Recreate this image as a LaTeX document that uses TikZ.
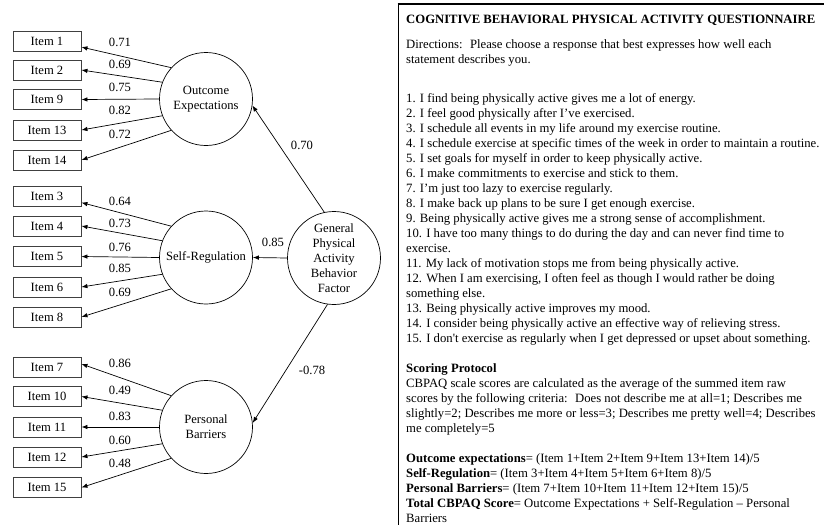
\documentclass[tikz,border=0pt]{standalone}
\usepackage{fontspec}
\setmainfont{Liberation Serif}[Ligatures=TeXOff]
\usetikzlibrary{arrows.meta,calc}
\newcommand\fsz{\fontsize{12.6}{15}\selectfont}
\newcommand\rsz{\fontsize{12.7}{15}\selectfont}
\tikzset{
  itembox/.style={draw=black!75, line width=0.9pt, minimum width=68pt, minimum height=20pt, inner sep=0pt, font=\fsz},
  latent/.style={draw, circle, line width=0.7pt, minimum size=93pt, inner sep=0pt, align=center, font=\fsz},
  load/.style={-{Latex[length=6pt,width=4.5pt]}, line width=0.7pt},
  num/.style={inner sep=0pt, font=\fsz},
  txt/.style={anchor=base west, inner sep=0pt, font=\rsz},
}
\newcommand\rline[3]{\node[txt] (#1) at (406,#2) {#3};}
\begin{document}
\begin{tikzpicture}[x=1pt,y=-1pt]
\useasboundingbox (0,0) rectangle (825,525);
% item boxes
\node[itembox] (i1)  at (47,41)   {Item 1};
\node[itembox] (i2)  at (47,70)   {Item 2};
\node[itembox] (i9)  at (47,99.5) {Item 9};
\node[itembox] (i13) at (47,130)  {Item 13};
\node[itembox] (i14) at (47,160)  {Item 14};
\node[itembox] (i3)  at (47,196.5){Item 3};
\node[itembox] (i4)  at (47,226)  {Item 4};
\node[itembox] (i5)  at (47,256.5){Item 5};
\node[itembox] (i6)  at (47,287)  {Item 6};
\node[itembox] (i8)  at (47,317)  {Item 8};
\node[itembox] (i7)  at (47,367)  {Item 7};
\node[itembox] (i10) at (47,396.5){Item 10};
\node[itembox] (i11) at (47,427)  {Item 11};
\node[itembox] (i12) at (47,457)  {Item 12};
\node[itembox] (i15) at (47,487.5){Item 15};
% latent factors
\node[latent] (oe) at (206,99)  {Outcome\\Expectations};
\node[latent] (sr) at (206,257.5) {Self-Regulation};
\node[latent] (pb) at (206,427) {Personal\\Barriers};
\node[latent] (gf) at (334,258) {General\\Physical\\Activity\\Behavior\\Factor};
% loadings
\draw[load] (oe.138) -- (i1.-10);
\draw[load] (oe.159) -- (i2.east);
\draw[load] (oe.180) -- (i9.east);
\draw[load] (oe.201) -- (i13.east);
\draw[load] (oe.222) -- (i14.east);
\draw[load] (sr.138) -- (i3.-10);
\draw[load] (sr.159) -- (i4.east);
\draw[load] (sr.180) -- (i5.east);
\draw[load] (sr.201) -- (i6.east);
\draw[load] (sr.222) -- (i8.east);
\draw[load] (pb.138) -- (i7.5);
\draw[load] (pb.159) -- (i10.east);
\draw[load] (pb.180) -- (i11.east);
\draw[load] (pb.201) -- (i12.east);
\draw[load] (pb.222) -- (i15.east);
\draw[load] (gf.102) -- (oe.-8);
\draw[load] (gf.west) -- (sr.east);
\draw[load] (gf.-98) -- (pb.5);
% numbers
\node[num] (n1)  at (120,42)    {0.71};
\node[num] (n2)  at (120,64.5)  {0.69};
\node[num] (n3)  at (120,87.5)  {0.75};
\node[num] (n4)  at (120,110)   {0.82};
\node[num] (n5)  at (120,134)   {0.72};
\node[num] (n6)  at (120,201)   {0.64};
\node[num] (n7)  at (120,223)   {0.73};
\node[num] (n8)  at (120,247)   {0.76};
\node[num] (n9)  at (120,268.5) {0.85};
\node[num] (n10) at (120,292.5) {0.69};
\node[num] (n11) at (120,363)   {0.86};
\node[num] (n12) at (120,390.5) {0.49};
\node[num] (n13) at (120,416)   {0.83};
\node[num] (n14) at (120,440)   {0.60};
\node[num] (n15) at (120,463.5) {0.48};
\node[num] (g1) at (302,145) {0.70};
\node[num] (g2) at (273,242) {0.85};
\node[num] (g3) at (312,370) {-0.78};
% questionnaire panel
\coordinate (ptl) at (398,4);
\coordinate (pbl) at (398,525);
\coordinate (ptr) at (824,4);
\draw[line width=0.8pt] (ptl) -- (pbl);
\draw[line width=2.5pt] ([xshift=-0.4pt]ptl) -- (ptr);
\rline{h0}{23}{\textbf{COGNITIVE BEHAVIORAL PHYSICAL ACTIVITY QUESTIONNAIRE}}
\rline{d1}{48}{Directions: \ Please choose a response that best expresses how well each}
\rline{d2}{63}{statement describes you.}
\rline{q1}{102}{1. I find being physically active gives me a lot of energy.}
\rline{q2}{117}{2. I feel good physically after I’ve exercised.}
\rline{q3}{132}{3. I schedule all events in my life around my exercise routine.}
\rline{q4}{147}{4. I schedule exercise at specific times of the week in order to maintain a routine.}
\rline{q5}{162}{5. I set goals for myself in order to keep physically active.}
\rline{q6}{177}{6. I make commitments to exercise and stick to them.}
\rline{q7}{192}{7. I’m just too lazy to exercise regularly.}
\rline{q8}{207}{8. I make back up plans to be sure I get enough exercise.}
\rline{q9}{222}{9. Being physically active gives me a strong sense of accomplishment.}
\rline{q10}{237}{10. I have too many things to do during the day and can never find time to}
\rline{q10b}{252}{exercise.}
\rline{q11}{267}{11. My lack of motivation stops me from being physically active.}
\rline{q12}{282}{12. When I am exercising, I often feel as though I would rather be doing}
\rline{q12b}{297}{something else.}
\rline{q13}{312}{13. Being physically active improves my mood.}
\rline{q14}{327}{14. I consider being physically active an effective way of relieving stress.}
\rline{q15}{342}{15. I don't exercise as regularly when I get depressed or upset about something.}
\rline{s0}{372}{\textbf{Scoring Protocol}}
\rline{s1}{387}{CBPAQ scale scores are calculated as the average of the summed item raw}
\rline{s2}{402}{scores by the following criteria: \ Does not describe me at all=1; Describes me}
\rline{s3}{417}{slightly=2; Describes me more or less=3; Describes me pretty well=4; Describes}
\rline{s4}{432}{me completely=5}
\rline{f1}{462}{\textbf{Outcome expectations}= (Item 1+Item 2+Item 9+Item 13+Item 14)/5}
\rline{f2}{477}{\textbf{Self-Regulation}= (Item 3+Item 4+Item 5+Item 6+Item 8)/5}
\rline{f3}{492}{\textbf{Personal Barriers}= (Item 7+Item 10+Item 11+Item 12+Item 15)/5}
\rline{f4}{507}{\textbf{Total CBPAQ Score}= Outcome Expectations + Self-Regulation – Personal}
\rline{f5}{522}{Barriers}
\end{tikzpicture}
\end{document}
